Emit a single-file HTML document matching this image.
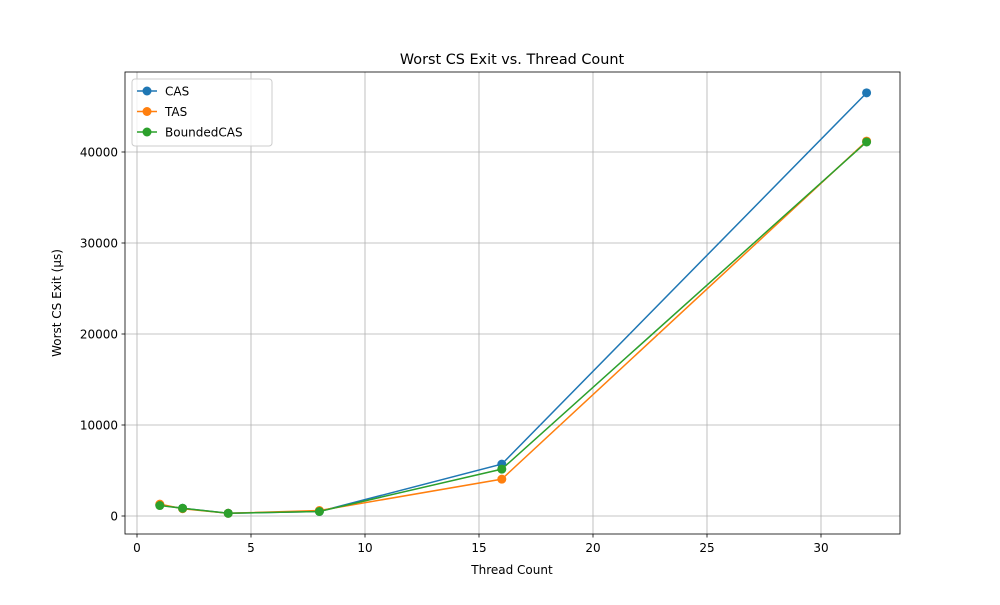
<!DOCTYPE html>
<html><head><meta charset="utf-8"><style>
body{margin:0;background:#fff;font-family:"Liberation Sans","DejaVu Sans",sans-serif;}
svg text{font-family:"DejaVu Sans","Liberation Sans",sans-serif;}
</style></head><body>
<svg id="chart" width="1000" height="600" xmlns="http://www.w3.org/2000/svg">
<rect width="1000" height="600" fill="#fff"/>
<g id="grid"></g>
<rect x="125" y="72" width="775" height="462" fill="none" stroke="#000" stroke-width="0.8"/>
<g id="ticks"></g>
<g id="series"></g>
<text x="512" y="64" text-anchor="middle" font-size="14.4">Worst CS Exit vs. Thread Count</text>
<text x="512" y="574" text-anchor="middle" font-size="12">Thread Count</text>
<text x="61" y="303" text-anchor="middle" font-size="12" transform="rotate(-90 61 303)">Worst CS Exit (µs)</text>
<g id="legend">
<rect x="132" y="79" width="140" height="67" fill="#fff" fill-opacity="0.8" stroke="#ccc" rx="3"/>
</g>
</svg>
<script>
const threads=[1,2,4,8,16,32];
const casVals=[1200,850,300,500,5700,46500];
const tasVals=[1300,800,300,600,4050,41200];
const boundedVals=[1150,850,300,500,5150,41100];
const seriesNames=["CAS","TAS","BoundedCAS"];
const xTicks=[0,5,10,15,20,25,30];
const yTicks=[0,10000,20000,30000,40000];
const colors=["#1f77b4","#ff7f0e","#2ca02c"];
const NS="http://www.w3.org/2000/svg";
const X=v=>137+v*22.8;
const Y=v=>516-v*0.0091;
function mk(t,a,p){const e=document.createElementNS(NS,t);for(const k in a)e.setAttribute(k,a[k]);p.appendChild(e);return e;}
const grid=document.getElementById('grid'),ticks=document.getElementById('ticks'),ser=document.getElementById('series'),leg=document.getElementById('legend');
xTicks.forEach(t=>{const x=X(t);
 let g=mk('line',{x1:x,x2:x,y1:72,y2:534,stroke:'#b0b0b0','stroke-width':0.8},grid);
 
 mk('line',{x1:x,x2:x,y1:534,y2:537.5,stroke:'#000','stroke-width':0.8},ticks);
 let l=mk('text',{x:x,y:552,'text-anchor':'middle','font-size':12},ticks);l.textContent=t;
 });
yTicks.forEach(t=>{const y=Y(t);
 let g=mk('line',{x1:125,x2:900,y1:y,y2:y,stroke:'#b0b0b0','stroke-width':0.8},grid);
 
 mk('line',{x1:121.5,x2:125,y1:y,y2:y,stroke:'#000','stroke-width':0.8},ticks);
 let l=mk('text',{x:118,y:y+4.5,'text-anchor':'end','font-size':12},ticks);l.textContent=t;
 });
[casVals,tasVals,boundedVals].forEach((vals,i)=>{
 const g=mk('g',{},ser);
 
 mk('polyline',{points:threads.map((t,j)=>X(t)+','+Y(vals[j])).join(' '),fill:'none',stroke:colors[i],'stroke-width':1.5},g);
 threads.forEach((t,j)=>{const c=mk('circle',{cx:X(t),cy:Y(vals[j]),r:4.5,fill:colors[i]},g);
  });
 const ly=91+i*20.5;
 const e=mk('g',{},leg);
 
 mk('line',{x1:137,x2:157,y1:ly,y2:ly,stroke:colors[i],'stroke-width':1.5},e);
 mk('circle',{cx:147,cy:ly,r:4.5,fill:colors[i]},e);
 const tx=mk('text',{x:165,y:ly+4.5,'font-size':12},e);tx.textContent=seriesNames[i];
});
</script>
</body></html>
